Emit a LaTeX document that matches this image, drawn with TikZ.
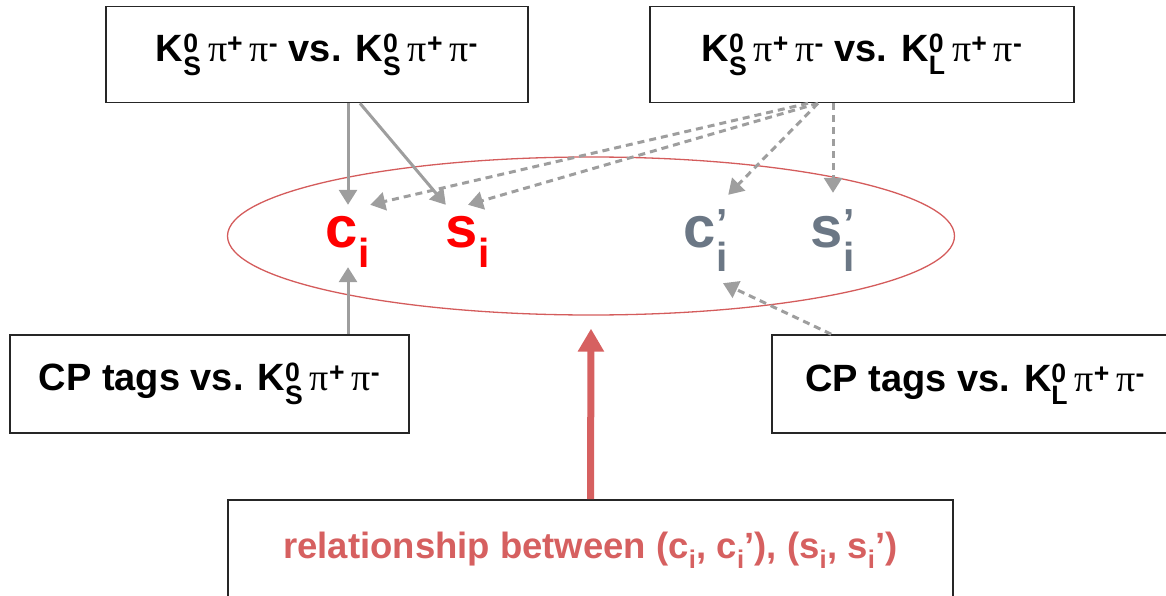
\documentclass[tikz,border=0pt]{standalone}
\usepackage{amsmath}
\usepackage{fontspec}
\setmainfont{Liberation Sans}
\newfontfamily\pifont{Liberation Serif}
\usepackage{tikz}
\usetikzlibrary{shapes.geometric, arrows.meta, positioning}
\definecolor{linkgray}{RGB}{158,158,158}
\definecolor{ellred}{RGB}{212,92,92}
\definecolor{relred}{RGB}{214,96,96}
\definecolor{primegray}{RGB}{107,119,133}
\newcommand{\kzero}[1]{K$^{\text{0}}_{\text{#1}}$}
\newcommand{\piplus}{{\mdseries\pifont π}$^{\text{+}}$}
\newcommand{\piminus}{{\mdseries\pifont π}$^{\text{-}}$}
\newcommand{\gap}{\hspace{0.17em}}
\newcommand{\lowi}{$_{\text{\raisebox{-0.25em}{i}}}$}

\begin{document}
\begin{tikzpicture}[
    x=1pt, y=-1pt,
    box/.style={rectangle, draw=black!85, line width=1.6pt, fill=white, minimum height=96pt, align=center, font=\fontsize{38}{46}\selectfont\bfseries},
    sym/.style={inner sep=0pt, anchor=base, font=\fontsize{58}{60}\selectfont\bfseries},
    link/.style={-{Triangle[width=18pt,length=15pt]}, line width=3pt, linkgray},
    dlink/.style={link, dash pattern=on 7pt off 5pt},
    bigarrow/.style={-{Triangle[width=25pt,length=23pt]}, line width=7pt, relred}
]
\clip (0,0) rectangle (1166,596);

% Measurement boxes
\node[box, minimum width=422pt] (pairSS) at (317,54.5) {\kzero{S}\gap\piplus\gap\piminus{} vs. \kzero{S}\gap\piplus\gap\piminus};
\node[box, minimum width=424pt] (pairSL) at (862,54.5) {\kzero{S}\gap\piplus\gap\piminus{} vs. \kzero{L}\gap\piplus\gap\piminus};
\node[box, minimum width=399pt, minimum height=98pt] (tagS) at (209.5,384) {CP tags vs. \kzero{S}\gap\piplus\gap\piminus};
\node[box, minimum width=406pt, minimum height=98pt] (tagL) at (975,384) {CP tags vs. \kzero{L}\gap\piplus\gap\piminus};
\node[box, minimum width=725pt, minimum height=100pt, text=relred, font=\fontsize{36.5}{44}\selectfont\bfseries] (rel) at (590.5,550)
    {relationship between (c\lowi, c\lowi’), (s\lowi, s\lowi’)};

% Parameters
\node[ellipse, draw=ellred, line width=1.3pt, minimum width=727pt, minimum height=158pt, inner sep=0pt] (pool) at (591,236) {};
\node[sym, text=red, text height=42pt, text depth=20pt] (ci) at (348,247) {c$_{\text{i}}$};
\node[sym, text=red, text height=42pt, text depth=20pt] (si) at (468,247) {s$_{\text{i}}$};
\node[sym, text=primegray, text height=52pt, text depth=36pt] (cip) at (706,247) {c$_{\text{i}}^{\text{’}}$};
\node[sym, text=primegray, text height=54pt, text depth=20pt] (sip) at (833,247) {s$_{\text{i}}^{\text{’}}$};

% Connectors
\draw[link] (ci.north |- pairSS.south) -- (ci.north);
\draw[link] ([xshift=43pt]pairSS.south) -- (si.north west);
\draw[link] (ci.south |- tagS.north) -- (ci.south);
\draw[dlink] ([xshift=-54pt]pairSL.south) -- (ci.north east);
\draw[dlink] ([xshift=-44pt]pairSL.south) -- (si.north);
\draw[dlink] ([xshift=-44pt]pairSL.south) -- (cip.north east);
\draw[dlink] (sip.north |- pairSL.south) -- (sip.north);
\draw[dlink] ([xshift=60pt]tagL.north west) -- ([xshift=17pt]cip.south);
\draw[bigarrow] (rel.north) -- ([yshift=-13pt]pool.south);
\end{tikzpicture}
\end{document}
